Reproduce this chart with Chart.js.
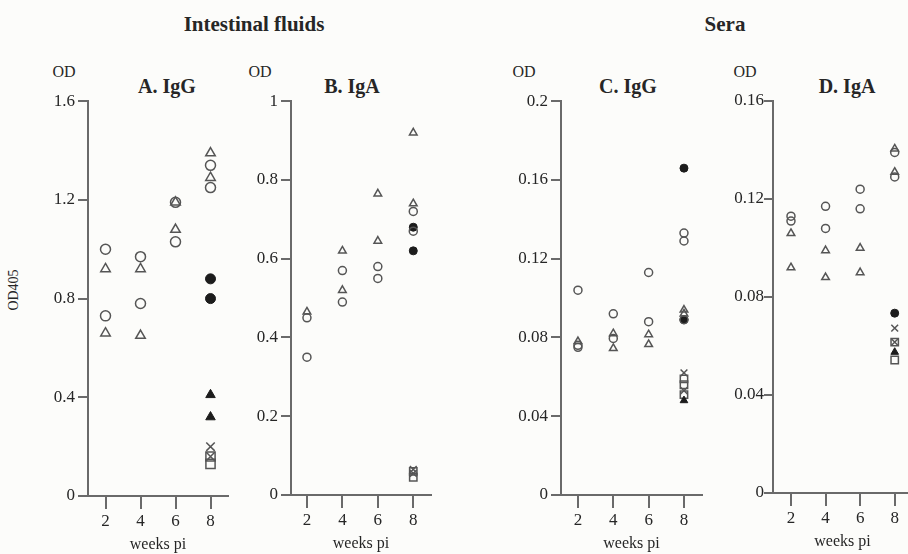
<!DOCTYPE html>
<html>
<head>
<meta charset="utf-8">
<script src="https://cdn.jsdelivr.net/npm/chart.js@4.4.1/dist/chart.umd.min.js"></script>
<style>
  body { margin: 0; width: 908px; height: 554px; overflow: hidden; background: #fcfcfa;
         position: relative; font-family: "Liberation Serif", "DejaVu Serif", serif; color: #262626; }
  canvas { position: absolute; }
  .lbl { position: absolute; white-space: nowrap; transform: translate(-50%, -50%); }
  .head { font-weight: bold; font-size: 21px; }
  .title { font-weight: bold; font-size: 20px; }
  .od { font-size: 16px; }
</style>
</head>
<body>
<div class="lbl head" style="left:254px; top:24px;">Intestinal fluids</div>
<div class="lbl head" style="left:725px; top:24px;">Sera</div>
<div class="lbl od" style="left:64px; top:72px;">OD</div>
<div class="lbl od" style="left:260px; top:72px;">OD</div>
<div class="lbl od" style="left:524px; top:72px;">OD</div>
<div class="lbl od" style="left:745px; top:72px;">OD</div>
<div class="lbl title" style="left:167px; top:86px;">A. IgG</div>
<div class="lbl title" style="left:352px; top:86px;">B. IgA</div>
<div class="lbl title" style="left:628px; top:86px;">C. IgG</div>
<div class="lbl title" style="left:847px; top:86px;">D. IgA</div>
<div class="lbl" style="left:14px; top:290px; font-size:14px; transform:translate(-50%,-50%) rotate(-90deg);">OD405</div>

<script>
// semanas (eixo X) e rótulos
const weekTicks = [2, 4, 6, 8];
const xTitle = 'weeks pi';

// ticks do eixo Y de cada painel
const aYTicks = [0, 0.4, 0.8, 1.2, 1.6];
const bYTicks = [0, 0.2, 0.4, 0.6, 0.8, 1];
const cYTicks = [0, 0.04, 0.08, 0.12, 0.16, 0.2];
const dYTicks = [0, 0.04, 0.08, 0.12, 0.16];

// A. IgG - fluidos intestinais  [semana, OD]
const aOpenCircle = [[2, 1.00], [2, 0.73], [4, 0.97], [4, 0.78], [6, 1.19], [6, 1.03], [8, 1.34], [8, 1.25]];
const aOpenTriangle = [[2, 0.92], [2, 0.66], [4, 0.92], [4, 0.65], [6, 1.19], [6, 1.08], [8, 1.39], [8, 1.29]];
const aFilledCircle = [[8, 0.88], [8, 0.80]];
const aFilledTriangle = [[8, 0.41], [8, 0.32]];
const aCross = [[8, 0.20], [8, 0.16]];
const aSquare = [[8, 0.16], [8, 0.13]];

// B. IgA - fluidos intestinais
const bOpenCircle = [[2, 0.45], [2, 0.35], [4, 0.57], [4, 0.49], [6, 0.58], [6, 0.55], [8, 0.72], [8, 0.67]];
const bOpenTriangle = [[2, 0.465], [4, 0.62], [4, 0.52], [6, 0.765], [6, 0.645], [8, 0.92], [8, 0.74]];
const bFilledCircle = [[8, 0.68], [8, 0.62]];
const bFilledTriangle = [];
const bCross = [[8, 0.065], [8, 0.055]];
const bSquare = [[8, 0.06], [8, 0.045]];

// C. IgG - soros
const cOpenCircle = [[2, 0.104], [2, 0.076], [2, 0.075], [4, 0.092], [4, 0.0795], [6, 0.113], [6, 0.088], [8, 0.133], [8, 0.129], [8, 0.089]];
const cOpenTriangle = [[2, 0.078], [4, 0.082], [4, 0.0745], [6, 0.0815], [6, 0.0765], [8, 0.094], [8, 0.092]];
const cFilledCircle = [[8, 0.166], [8, 0.089]];
const cFilledTriangle = [[8, 0.048]];
const cCross = [[8, 0.062], [8, 0.053]];
const cSquare = [[8, 0.059], [8, 0.056], [8, 0.051]];

// D. IgA - soros
const dOpenCircle = [[2, 0.113], [2, 0.111], [4, 0.117], [4, 0.108], [6, 0.124], [6, 0.116], [8, 0.139], [8, 0.129]];
const dOpenTriangle = [[2, 0.106], [2, 0.092], [4, 0.099], [4, 0.088], [6, 0.100], [6, 0.090], [8, 0.1405], [8, 0.131]];
const dFilledCircle = [[8, 0.0734]];
const dFilledTriangle = [[8, 0.0575]];
const dCross = [[8, 0.0673], [8, 0.0616]];
const dSquare = [[8, 0.0616], [8, 0.0543]];

const axisColor = '#6a6a6a';
const textColor = '#262626';
const markColor = '#555555';
const darkColor = '#1c1c1c';
const fontFamily = '"Liberation Serif", "DejaVu Serif", serif';

// estilos dos marcadores
function estilo(tipo, r) {
    const base = { borderColor: markColor, borderWidth: 1.5, backgroundColor: 'rgba(0,0,0,0)' };
    switch (tipo) {
        case 'openCircle': return { ...base, pointStyle: 'circle', pointRadius: r };
        case 'openTriangle': return { ...base, pointStyle: 'triangle', pointRadius: r * 1.1 };
        case 'filledCircle': return { pointStyle: 'circle', pointRadius: r, borderColor: darkColor, backgroundColor: darkColor, borderWidth: 1 };
        case 'filledTriangle': return { pointStyle: 'triangle', pointRadius: r * 1.1, borderColor: darkColor, backgroundColor: darkColor, borderWidth: 1 };
        case 'cross': return { ...base, pointStyle: 'crossRot', pointRadius: r * 1.2 };
        case 'square': return { ...base, pointStyle: 'rect', pointRadius: r * 1.3 };
    }
}

function toPoints(arr) {
    return arr.map(p => ({ x: p[0], y: p[1] }));
}

const panels = [
    { x0: 88, y0: 100, x1: 228, y1: 496, xMin: 1, xMax: 9, yMax: 1.6, yTicks: aYTicks, r: 5, tickLen: 10, pad: 3,
      series: { openCircle: aOpenCircle, openTriangle: aOpenTriangle, filledCircle: aFilledCircle, filledTriangle: aFilledTriangle, cross: aCross, square: aSquare } },
    { x0: 291, y0: 100, x1: 431, y1: 495, xMin: 1.1, xMax: 9, yMax: 1, yTicks: bYTicks, r: 4, tickLen: 10, pad: 3,
      series: { openCircle: bOpenCircle, openTriangle: bOpenTriangle, filledCircle: bFilledCircle, filledTriangle: bFilledTriangle, cross: bCross, square: bSquare } },
    { x0: 561, y0: 100, x1: 702, y1: 495, xMin: 1.04, xMax: 9.02, yMax: 0.2, yTicks: cYTicks, r: 4, tickLen: 10, pad: 3,
      series: { openCircle: cOpenCircle, openTriangle: cOpenTriangle, filledCircle: cFilledCircle, filledTriangle: cFilledTriangle, cross: cCross, square: cSquare } },
    { x0: 773, y0: 101, x1: 912, y1: 493, xMin: 0.96, xMax: 9, yMax: 0.16, yTicks: dYTicks, r: 4, tickLen: 9, pad: 0,
      series: { openCircle: dOpenCircle, openTriangle: dOpenTriangle, filledCircle: dFilledCircle, filledTriangle: dFilledTriangle, cross: dCross, square: dSquare } }
];

const Y_AXIS_W = 60, X_AXIS_H = 58, PAD_TOP = 12, PAD_RIGHT = 10;

panels.forEach(p => {
    const cv = document.createElement('canvas');
    cv.width = (p.x1 - p.x0) + Y_AXIS_W + PAD_RIGHT;
    cv.height = (p.y1 - p.y0) + PAD_TOP + X_AXIS_H;
    cv.style.left = (p.x0 - Y_AXIS_W) + 'px';
    cv.style.top = (p.y0 - PAD_TOP) + 'px';
    document.body.appendChild(cv);

    const datasets = Object.keys(p.series).map(k => ({
        label: k,
        data: toPoints(p.series[k]),
        clip: false,
        ...estilo(k, p.r)
    }));

    new Chart(cv.getContext('2d'), {
        type: 'scatter',
        data: { datasets: datasets },
        options: {
            responsive: false,
            animation: false,
            layout: { padding: { top: PAD_TOP, right: PAD_RIGHT, left: 0, bottom: 0 } },
            plugins: { legend: { display: false }, tooltip: { enabled: false } },
            scales: {
                x: {
                    type: 'linear', min: p.xMin, max: p.xMax,
                    afterBuildTicks: s => { s.ticks = weekTicks.map(v => ({ value: v })); },
                    afterFit: s => { s.height = X_AXIS_H; },
                    grid: { drawOnChartArea: false, drawTicks: true, tickLength: 13, color: axisColor, lineWidth: 2 },
                    border: { display: true, color: axisColor, width: 2 },
                    ticks: { color: textColor, font: { family: fontFamily, size: 17 }, padding: 2, maxRotation: 0, autoSkip: false, callback: v => String(v) },
                    title: { display: true, text: xTitle, color: textColor, font: { family: fontFamily, size: 16 }, padding: 0 }
                },
                y: {
                    type: 'linear', min: 0, max: p.yMax,
                    afterBuildTicks: s => { s.ticks = p.yTicks.map(v => ({ value: v })); },
                    afterFit: s => { s.width = Y_AXIS_W; },
                    grid: { drawOnChartArea: false, drawTicks: true, tickLength: p.tickLen, color: axisColor, lineWidth: 2 },
                    border: { display: true, color: axisColor, width: 2 },
                    ticks: { color: textColor, font: { family: fontFamily, size: 17 }, padding: p.pad, autoSkip: false, callback: v => String(v) }
                }
            }
        }
    });
});
</script>
</body>
</html>
